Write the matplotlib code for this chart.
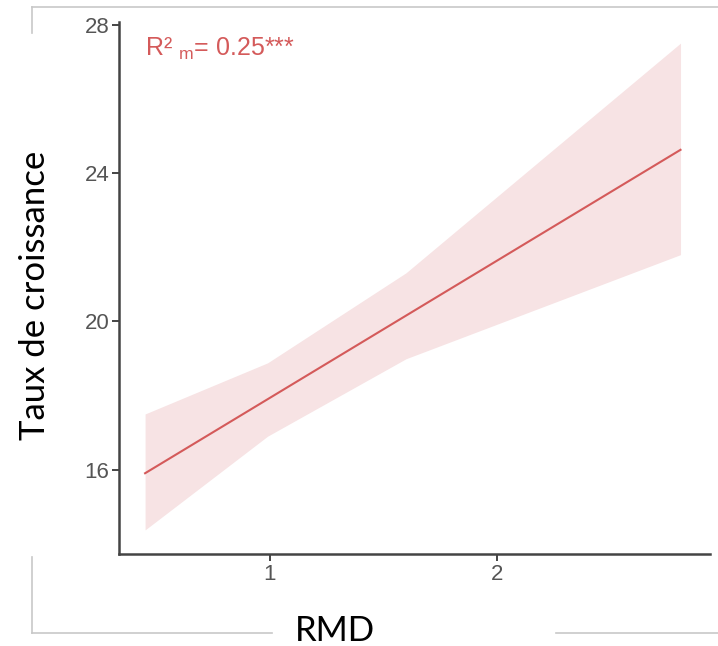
import matplotlib
matplotlib.use("Agg")
import matplotlib.pyplot as plt
from matplotlib.lines import Line2D

# fitted line (RMD -> growth rate)
rmd_line = [0.45, 2.81]
taux_line = [15.9, 24.63]

# confidence band
rmd_band = [0.45, 0.99, 1.6, 2.81]
band_low = [14.37, 16.9, 18.99, 21.8]
band_high = [17.5, 18.88, 21.31, 27.51]

yticks = [16, 20, 24, 28]
xticks = [1, 2]

plt.rcParams["mathtext.fontset"] = "custom"
plt.rcParams["mathtext.rm"] = "Liberation Sans"
plt.rcParams["mathtext.it"] = "Liberation Sans"

W, H = 718, 646
fig = plt.figure(figsize=(W / 100, H / 100), dpi=100)
ax = fig.add_axes([119 / W, 1 - 554 / H, (710 - 119) / W, (554 - 22) / H])

ax.fill_between(rmd_band, band_low, band_high, color="#f7e3e4", lw=0)
ax.plot(rmd_line, taux_line, color="#d45a5a", lw=1.5)

ax.set_xlim(0.335, 2.94)
ax.set_ylim(13.72, 28.08)
ax.set_xticks(xticks)
ax.set_yticks(yticks)
ax.tick_params(axis="both", length=5, width=1.4, color="#444444",
               labelcolor="#555555", labelsize=16, pad=2)
for lab in ax.get_xticklabels() + ax.get_yticklabels():
    lab.set_family("Liberation Sans")
for s in ["top", "right"]:
    ax.spines[s].set_visible(False)
for s in ["left", "bottom"]:
    ax.spines[s].set_linewidth(1.8)
    ax.spines[s].set_color("#444444")

ax.text(145 / W, 1 - 36 / H, "R² $_{m}$= 0.25***", transform=fig.transFigure,
        color="#d45a5a", fontsize=18, family="Liberation Sans", va="top", ha="left")

# outer frame lines (slide-style)
frame_col = "#c8c8c8"
segs = [((32, 7), (718, 7)), ((32, 7), (32, 33)), ((32, 557), (32, 633)),
        ((32, 633), (272, 633)), ((556, 633), (718, 633))]
for (x0, y0), (x1, y1) in segs:
    fig.add_artist(Line2D([x0 / W, x1 / W], [1 - y0 / H, 1 - y1 / H],
                          transform=fig.transFigure, color=frame_col, lw=1.2))

fig.text(35 / W, 1 - 295 / H, "Taux de croissance", rotation=90, fontsize=25,
         family="Lato", ha="center", va="center")
fig.text(335 / W, 1 - 631 / H, "RMD", fontsize=25, family="Lato",
         ha="center", va="center")

fig.savefig("out.png", dpi=100)
